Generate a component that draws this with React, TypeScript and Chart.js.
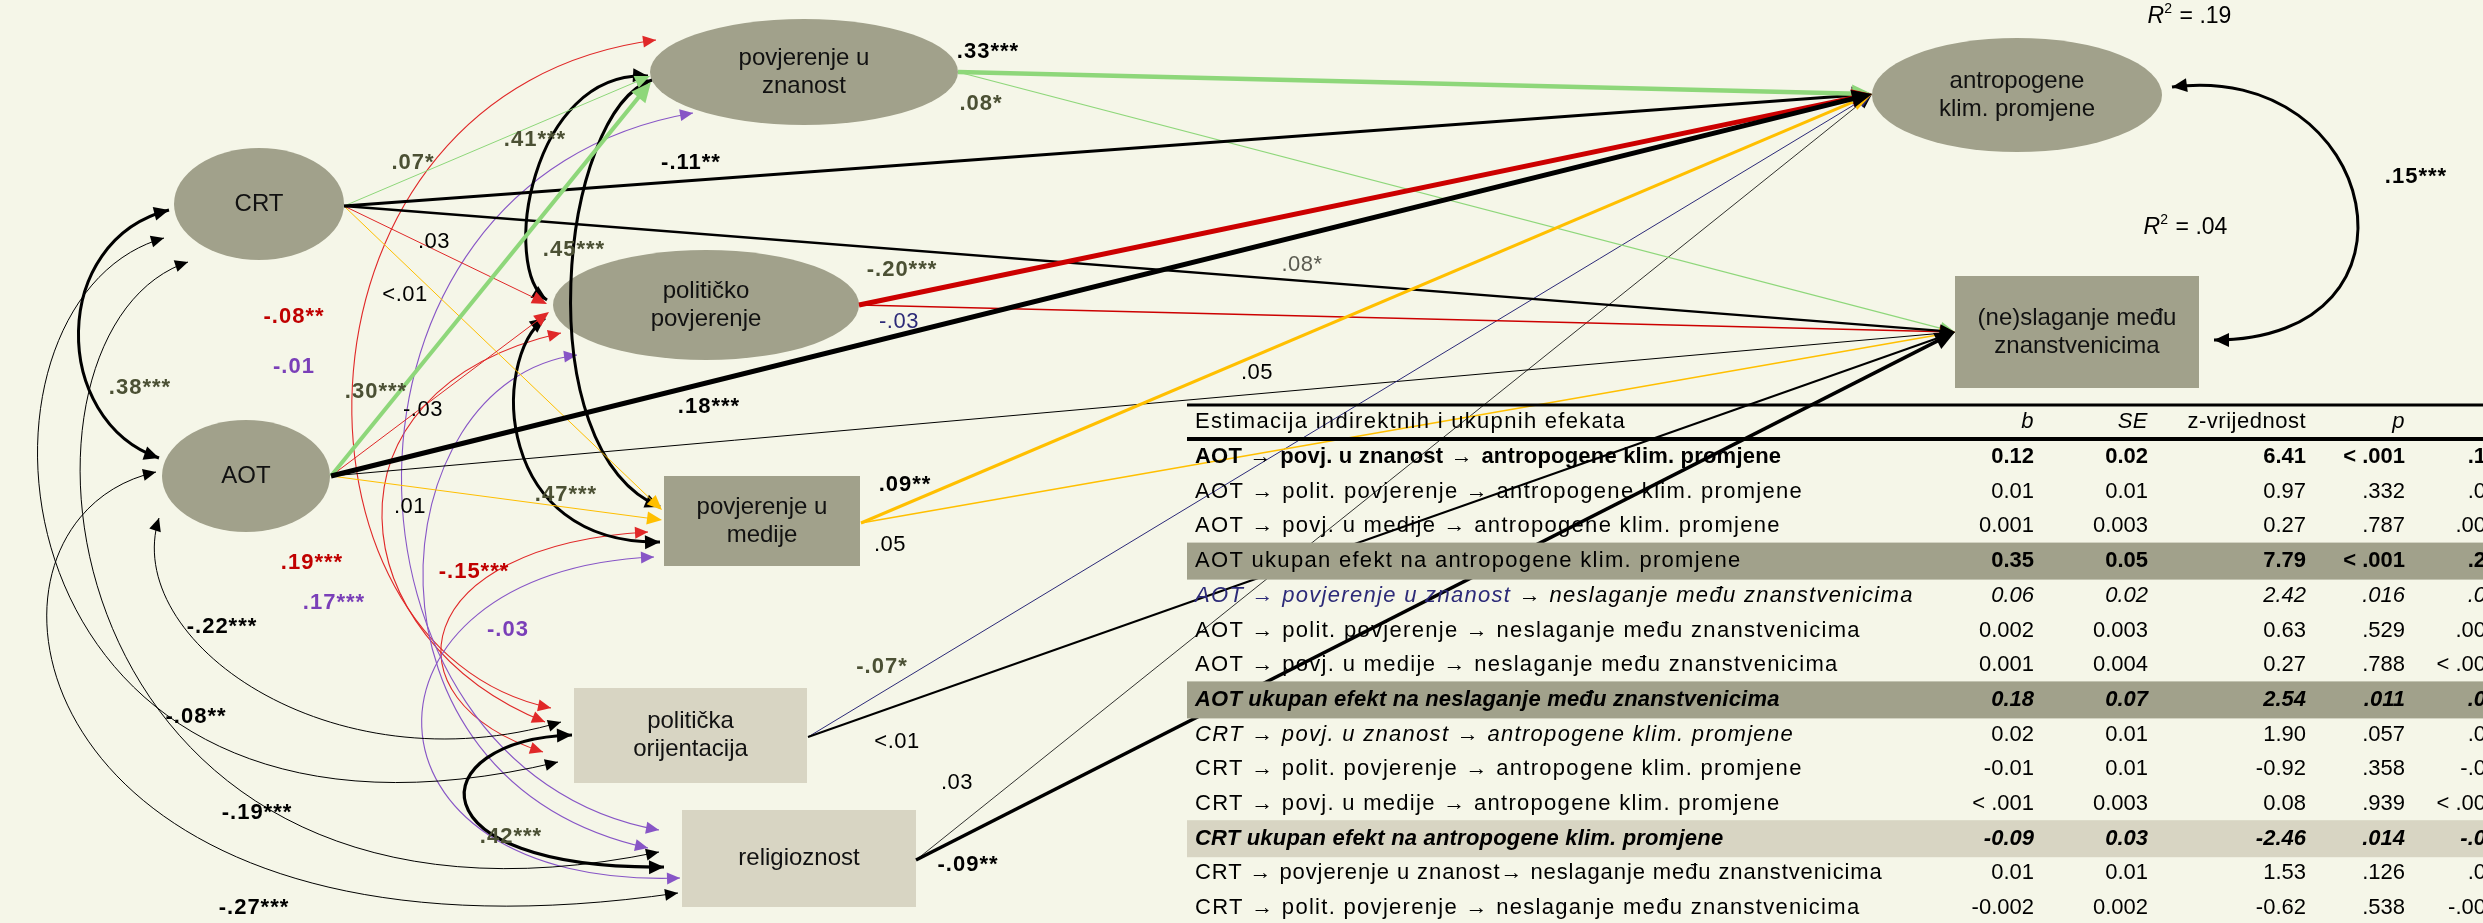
import React, { useEffect, useRef } from "react";
import { Chart, registerables } from "chart.js";

Chart.register(...registerables);

const W = 2483;
const H = 923;
const FONT = '"Liberation Sans", Arial, Helvetica, sans-serif';

// ---------------- data ----------------
const nodeKeys = ["CRT", "AOT", "PZ", "PP", "PM", "PO", "REL", "ANT", "NES"];
const nodeNames = [
  "CRT",
  "AOT",
  "povjerenje u\nznanost",
  "političko\npovjerenje",
  "povjerenje u\nmedije",
  "politička\norijentacija",
  "religioznost",
  "antropogene\nklim. promjene",
  "(ne)slaganje među\nznanstvenicima",
];

const directFrom = ["PZ", "PZ", "CRT", "CRT", "CRT", "CRT", "CRT", "PP", "PP", "AOT", "AOT", "AOT", "AOT", "AOT", "PM", "PM", "PO", "PO", "REL", "REL"];
const directTo = ["ANT", "NES", "ANT", "NES", "PZ", "PP", "PM", "ANT", "NES", "ANT", "NES", "PZ", "PP", "PM", "ANT", "NES", "ANT", "NES", "ANT", "NES"];
const directCoef = [".33***", ".08*", "-.11**", ".08*", ".07*", ".03", "<.01", "-.20***", "-.03", ".18***", ".05", ".30***", "-.03", ".01", ".09**", ".05", "-.07*", "<.01", ".03", "-.09**"];

const corrA = ["CRT", "PZ", "PZ", "PP", "PO", "ANT", "AOT", "CRT", "CRT", "AOT"];
const corrB = ["AOT", "PP", "PM", "PM", "REL", "NES", "PO", "PO", "REL", "REL"];
const corrCoef = [".38***", ".41***", ".45***", ".47***", ".42***", ".15***", "-.22***", "-.08**", "-.19***", "-.27***"];

const controlFrom = ["PO", "PO", "PO", "REL", "REL", "REL"];
const controlTo = ["PZ", "PP", "PM", "PZ", "PP", "PM"];
const controlCoef = ["-.08**", ".19***", "-.15***", "-.01", ".17***", "-.03"];

const r2Nodes = ["ANT", "NES"];
const r2Values = [".19", ".04"];

const tableTitle = "Estimacija indirektnih i ukupnih efekata";
const tableHeads = ["b", "SE", "z-vrijednost", "p"];
const effectRows = [
  "AOT → povj. u znanost → antropogene klim. promjene",
  "AOT → polit. povjerenje → antropogene klim. promjene",
  "AOT → povj. u medije → antropogene klim. promjene",
  "AOT ukupan efekt na antropogene klim. promjene",
  "AOT → povjerenje u znanost → neslaganje među znanstvenicima",
  "AOT → polit. povjerenje → neslaganje među znanstvenicima",
  "AOT → povj. u medije → neslaganje među znanstvenicima",
  "AOT ukupan efekt na neslaganje među znanstvenicima",
  "CRT → povj. u znanost → antropogene klim. promjene",
  "CRT → polit. povjerenje → antropogene klim. promjene",
  "CRT → povj. u medije → antropogene klim. promjene",
  "CRT ukupan efekt na antropogene klim. promjene",
  "CRT → povjerenje u znanost→ neslaganje među znanstvenicima",
  "CRT → polit. povjerenje → neslaganje među znanstvenicima",
];
const effectB = ["0.12", "0.01", "0.001", "0.35", "0.06", "0.002", "0.001", "0.18", "0.02", "-0.01", "< .001", "-0.09", "0.01", "-0.002"];
const effectSE = ["0.02", "0.01", "0.003", "0.05", "0.02", "0.003", "0.004", "0.07", "0.01", "0.01", "0.003", "0.03", "0.01", "0.002"];
const effectZ = ["6.41", "0.97", "0.27", "7.79", "2.42", "0.63", "0.27", "2.54", "1.90", "-0.92", "0.08", "-2.46", "1.53", "-0.62"];
const effectP = ["< .001", ".332", ".787", "< .001", ".016", ".529", ".788", ".011", ".057", ".358", ".939", ".014", ".126", ".538"];
// standardized column, cut off at the right border of the picture (visible part only)
const effectBeta = [".1", ".0", ".00", ".2", ".0", ".00", "< .00", ".0", ".0", "-.0", "< .00", "-.0", ".0", "-.00"];

// ---------------- layout / styles ----------------
const BG = "#f5f6e8";
const GRAY = "#a1a18b";
const LIGHT = "#d8d5c3";
const OLIVE = "#4b5034";
const RED = "#cc0000";
const RED_T = "#e02828";
const ORANGE = "#ffbf00";
const GREEN = "#8ed77a";
const PURPLE = "#8755c6";
const PURPLE_T = "#7a3fb8";
const NAVY = "#2c2a78";

type NodeL = { shape: "e" | "r"; x: number; y: number; a: number; b: number; fill: string };
const NODE_LAYOUT: Record<string, NodeL> = {
  CRT: { shape: "e", x: 259, y: 204, a: 85, b: 56, fill: GRAY },
  AOT: { shape: "e", x: 246, y: 476, a: 84, b: 56, fill: GRAY },
  PZ: { shape: "e", x: 804, y: 72, a: 154, b: 53, fill: GRAY },
  PP: { shape: "e", x: 706, y: 305, a: 153, b: 55, fill: GRAY },
  PM: { shape: "r", x: 664, y: 476, a: 196, b: 90, fill: GRAY },
  PO: { shape: "r", x: 574, y: 688, a: 233, b: 95, fill: LIGHT },
  REL: { shape: "r", x: 682, y: 810, a: 234, b: 97, fill: LIGHT },
  ANT: { shape: "e", x: 2017, y: 95, a: 145, b: 57, fill: GRAY },
  NES: { shape: "r", x: 1955, y: 276, a: 244, b: 112, fill: GRAY },
};

const OUT: Record<string, [number, number]> = {
  CRT: [344, 206], AOT: [331, 476], PZ: [958, 72], PP: [859, 305], PM: [861, 523], PO: [808, 737], REL: [916, 860],
};
const IN_AT: Record<string, [number, number]> = {
  ANT: [1872, 94], NES: [1955, 332],
};
const IN_SPECIAL: Record<string, [number, number]> = {
  "CRT-PZ": [650, 76], "AOT-PZ": [651, 82], "CRT-PP": [547, 304], "AOT-PP": [549, 312], "CRT-PM": [662, 510], "AOT-PM": [662, 520],
};
// [color, width, labelX, labelY, labelStyle]
const DIRECT_STYLE: [string, number, number, number, string][] = [
  [GREEN, 4.5, 988, 52, "bk"],
  [GREEN, 1.2, 981, 104, "ol"],
  ["#000", 3, 691, 163, "bk"],
  ["#000", 2.3, 1302, 265, "g"],
  [GREEN, 1, 413, 163, "ol"],
  [RED_T, 1, 434, 242, "n"],
  [ORANGE, 1, 405, 295, "n"],
  [RED, 5, 902, 270, "ol"],
  [RED, 1.3, 899, 322, "nv"],
  ["#000", 5, 709, 407, "bk"],
  ["#000", 1, 1257, 373, "n"],
  [GREEN, 4, 376, 392, "ol"],
  [RED_T, 1, 423, 410, "n"],
  [ORANGE, 1, 410, 507, "n"],
  [ORANGE, 3, 905, 485, "bk"],
  [ORANGE, 1.6, 890, 545, "n"],
  [NAVY, 1, 882, 667, "ol"],
  ["#000", 2, 897, 742, "n"],
  ["#000", 0.8, 957, 783, "n"],
  ["#000", 3.5, 968, 865, "bk"],
];

type Pt = [number, number];
const CORR_STYLE: [Pt, Pt, Pt, Pt, number, number, number, string][] = [
  [[169, 210], [50, 240], [50, 420], [159, 458], 3, 140, 388, "ol"],
  [[648, 76], [530, 70], [500, 270], [547, 300], 3, 535, 140, "ol"],
  [[652, 80], [560, 110], [525, 450], [660, 507], 3, 574, 250, "ol"],
  [[545, 318], [490, 360], [495, 545], [660, 542], 3, 566, 495, "ol"],
  [[572, 735], [420, 740], [410, 870], [664, 867], 3.2, 511, 837, "ol"],
  [[2172, 87], [2380, 60], [2440, 340], [2214, 340], 3, 2416, 177, "bk"],
  [[159, 518], [120, 640], [330, 790], [561, 722], 1, 222, 627, "bk"],
  [[164, 238], [-60, 300], [-20, 900], [558, 762], 1, 196, 717, "bk"],
  [[188, 262], [-20, 330], [40, 980], [659, 852], 1, 257, 813, "bk"],
  [[156, 472], [-60, 520], [10, 990], [678, 893], 1, 254, 908, "bk"],
];
const CONTROL_STYLE: [Pt, Pt, Pt, Pt, string, number, number, string][] = [
  [[551, 708], [270, 650], [270, 90], [656, 40], RED_T, 294, 317, "rd"],
  [[545, 722], [340, 640], [310, 390], [561, 333], RED_T, 312, 563, "rd"],
  [[543, 752], [380, 700], [410, 545], [648, 532], RED_T, 474, 572, "rd"],
  [[659, 830], [320, 770], [300, 180], [693, 113], PURPLE, 294, 367, "pu"],
  [[648, 848], [340, 780], [380, 380], [577, 355], PURPLE, 334, 603, "pu"],
  [[680, 878], [340, 890], [340, 570], [654, 557], PURPLE, 508, 630, "pu"],
];
const R2_POS: Pt[] = [[2190, 17], [2186, 228]];

const TABLE = {
  x0: 1187, x1: 2483, top: 405, headY: 422, headLine: 439, row0: 457, dy: 34.7,
  textX: 1195, cols: [2034, 2148, 2306, 2405], betaRight: 2486,
};
const ROW_BAND: (string | null)[] = [null, null, null, GRAY, null, null, null, GRAY, null, null, null, LIGHT, null, null];
const ROW_VAL_FONT = ["b", "n", "n", "b", "i", "n", "n", "bi", "n", "n", "n", "bi", "n", "n"];

const LABEL_STYLE: Record<string, [string, string]> = {
  bk: ["bold 22px " + FONT, "#000"],
  ol: ["bold 22px " + FONT, OLIVE],
  n: ["22px " + FONT, "#000"],
  g: ["22px " + FONT, "#5a5a50"],
  nv: ["22px " + FONT, NAVY],
  rd: ["bold 22px " + FONT, "#c00000"],
  pu: ["bold 22px " + FONT, PURPLE_T],
};

function fontFor(k: string, size = 22) {
  if (k === "b") return `bold ${size}px ${FONT}`;
  if (k === "i") return `italic ${size}px ${FONT}`;
  if (k === "bi") return `italic bold ${size}px ${FONT}`;
  return `${size}px ${FONT}`;
}
function spacingFor(k: string) {
  return k === "b" || k === "bi" ? "0.2px" : "1.3px";
}

function rowSegments(i: number): [string, string, string][] {
  const t = effectRows[i];
  if (i === 0) {
    return [["AOT", "b", "#000"], [" → ", "n", "#000"], ["povj. u znanost", "b", "#000"], [" → ", "n", "#000"], ["antropogene klim. promjene", "b", "#000"]];
  }
  if (i === 4) {
    const k = t.indexOf(" → neslaganje");
    return [[t.slice(0, k), "i", NAVY], [t.slice(k), "i", "#000"]];
  }
  if (i === 7 || i === 11) return [[t, "bi", "#000"]];
  if (i === 8) return [[t, "i", "#000"]];
  return [[t, "n", "#000"]];
}

function arrowHead(ctx: CanvasRenderingContext2D, x: number, y: number, ang: number, len: number, hw: number, color: string) {
  ctx.save();
  ctx.translate(x, y);
  ctx.rotate(ang);
  ctx.beginPath();
  ctx.moveTo(0, 0);
  ctx.lineTo(-len, -hw);
  ctx.lineTo(-len, hw);
  ctx.closePath();
  ctx.fillStyle = color;
  ctx.fill();
  ctx.restore();
}

function setSpacing(ctx: CanvasRenderingContext2D, v: string) {
  (ctx as any).letterSpacing = v;
}

const diagramPlugin = {
  id: "semDiagram",
  beforeDraw(chart: any) {
    const ctx: CanvasRenderingContext2D = chart.ctx;
    ctx.save();
    ctx.fillStyle = BG;
    ctx.fillRect(0, 0, chart.width, chart.height);
    ctx.restore();
  },
  afterDatasetsDraw(chart: any) {
    const ctx: CanvasRenderingContext2D = chart.ctx;
    const xs = chart.scales.x;
    const ys = chart.scales.y;
    const X = (v: number) => xs.getPixelForValue(v);
    const Y = (v: number) => ys.getPixelForValue(v);
    ctx.save();

    // nodes
    nodeKeys.forEach((k) => {
      const n = NODE_LAYOUT[k];
      ctx.fillStyle = n.fill;
      ctx.beginPath();
      if (n.shape === "e") {
        ctx.ellipse(X(n.x), Y(n.y), X(n.x + n.a) - X(n.x), Y(n.y + n.b) - Y(n.y), 0, 0, Math.PI * 2);
      } else {
        ctx.rect(X(n.x), Y(n.y), X(n.x + n.a) - X(n.x), Y(n.y + n.b) - Y(n.y));
      }
      ctx.fill();
    });

    const cubic = (p: Pt[], color: string, w: number, heads: boolean, hl: number, hw: number) => {
      const [p0, c1, c2, p3] = p;
      ctx.strokeStyle = color;
      ctx.lineWidth = w;
      ctx.beginPath();
      ctx.moveTo(X(p0[0]), Y(p0[1]));
      ctx.bezierCurveTo(X(c1[0]), Y(c1[1]), X(c2[0]), Y(c2[1]), X(p3[0]), Y(p3[1]));
      ctx.stroke();
      if (heads) {
        const a1 = Math.atan2(Y(p3[1]) - Y(c2[1]), X(p3[0]) - X(c2[0]));
        arrowHead(ctx, X(p3[0]), Y(p3[1]), a1, hl, hw, color);
        const a0 = Math.atan2(Y(p0[1]) - Y(c1[1]), X(p0[0]) - X(c1[0]));
        arrowHead(ctx, X(p0[0]), Y(p0[1]), a0, hl, hw, color);
      }
    };

    CONTROL_STYLE.forEach((s) => cubic([s[0], s[1], s[2], s[3]], s[4], 1.1, true, 13, 6));
    CORR_STYLE.forEach((s) => cubic([s[0], s[1], s[2], s[3]], "#000", s[4], true, s[4] > 2 ? 15 : 13, s[4] > 2 ? 7 : 6));

    const order = directFrom.map((_, i) => i).sort((a, b) => DIRECT_STYLE[a][1] - DIRECT_STYLE[b][1]);
    order.forEach((i) => {
      const [color, w] = DIRECT_STYLE[i];
      const s = OUT[directFrom[i]];
      const e = IN_SPECIAL[directFrom[i] + "-" + directTo[i]] || IN_AT[directTo[i]];
      const x0 = X(s[0]), y0 = Y(s[1]), x1 = X(e[0]), y1 = Y(e[1]);
      const ang = Math.atan2(y1 - y0, x1 - x0);
      const hl = w >= 3 ? 20 : 15;
      const hw = w >= 3 ? 9 : 6.5;
      ctx.strokeStyle = color;
      ctx.lineWidth = w;
      ctx.beginPath();
      ctx.moveTo(x0, y0);
      ctx.lineTo(x1 - Math.cos(ang) * hl * 0.7, y1 - Math.sin(ang) * hl * 0.7);
      ctx.stroke();
      arrowHead(ctx, x1, y1, ang, hl, hw, color);
    });

    // coefficient labels
    ctx.textAlign = "center";
    ctx.textBaseline = "middle";
    const label = (t: string, x: number, y: number, st: string) => {
      const [f, c] = LABEL_STYLE[st];
      ctx.font = f;
      ctx.fillStyle = c;
      setSpacing(ctx, f.startsWith("bold") ? "1px" : "0.5px");
      ctx.fillText(t, X(x), Y(y));
    };
    directCoef.forEach((t, i) => label(t, DIRECT_STYLE[i][2], DIRECT_STYLE[i][3], DIRECT_STYLE[i][4]));
    corrCoef.forEach((t, i) => label(t, CORR_STYLE[i][5], CORR_STYLE[i][6], CORR_STYLE[i][7]));
    controlCoef.forEach((t, i) => label(t, CONTROL_STYLE[i][5], CONTROL_STYLE[i][6], CONTROL_STYLE[i][7]));
    setSpacing(ctx, "0px");

    // R2 labels
    r2Values.forEach((v, i) => {
      const [x, y] = R2_POS[i];
      ctx.textAlign = "left";
      ctx.fillStyle = "#000";
      ctx.font = `italic 23px ${FONT}`;
      const rw = ctx.measureText("R").width;
      ctx.font = `23px ${FONT}`;
      const rest = ctx.measureText(" = " + v).width;
      let cx = X(x) - (rw + 10 + rest) / 2;
      ctx.font = `italic 23px ${FONT}`;
      ctx.fillText("R", cx, Y(y));
      cx += rw;
      ctx.font = `14px ${FONT}`;
      ctx.fillText("2", cx, Y(y) - 8);
      cx += 9;
      ctx.font = `23px ${FONT}`;
      ctx.fillText(" = " + v, cx, Y(y));
    });

    // node labels
    ctx.textAlign = "center";
    ctx.fillStyle = "#111";
    ctx.font = `24px ${FONT}`;
    nodeKeys.forEach((k, i) => {
      const n = NODE_LAYOUT[k];
      const cx = n.shape === "e" ? n.x : n.x + n.a / 2;
      const cy = n.shape === "e" ? n.y : n.y + n.b / 2;
      const lines = nodeNames[i].split("\n");
      lines.forEach((ln, j) => {
        ctx.fillText(ln, X(cx), Y(cy + (j - (lines.length - 1) / 2) * 28));
      });
    });

    // ---------- table ----------
    const T = TABLE;
    ROW_BAND.forEach((c, i) => {
      if (!c) return;
      const yc = T.row0 + i * T.dy;
      ctx.fillStyle = c;
      ctx.fillRect(X(T.x0), Y(yc - 18.5), X(T.x1) - X(T.x0), Y(yc + 18.5) - Y(yc - 18.5));
    });
    ctx.fillStyle = "#000";
    ctx.fillRect(X(T.x0), Y(T.top) - 1.5, X(T.x1) - X(T.x0), 3);
    ctx.fillRect(X(T.x0), Y(T.headLine) - 2, X(T.x1) - X(T.x0), 4);

    ctx.textBaseline = "middle";
    ctx.textAlign = "left";
    ctx.font = fontFor("n");
    setSpacing(ctx, spacingFor("n"));
    ctx.fillText(tableTitle, X(T.textX), Y(T.headY));
    setSpacing(ctx, "0.5px");
    ctx.textAlign = "right";
    tableHeads.forEach((h, j) => {
      ctx.font = fontFor(h === "z-vrijednost" ? "n" : "i");
      ctx.fillText(h, X(T.cols[j]), Y(T.headY));
    });

    effectRows.forEach((_, i) => {
      const yc = Y(T.row0 + i * T.dy);
      let cx = X(T.textX);
      ctx.textAlign = "left";
      rowSegments(i).forEach(([t, f, c]) => {
        ctx.font = fontFor(f);
        setSpacing(ctx, i === 12 ? "0.9px" : spacingFor(f));
        ctx.fillStyle = c;
        ctx.fillText(t, cx, yc);
        cx += ctx.measureText(t).width;
      });
      ctx.textAlign = "right";
      ctx.fillStyle = "#000";
      ctx.font = fontFor(ROW_VAL_FONT[i]);
      setSpacing(ctx, "0px");
      const vals = [effectB[i], effectSE[i], effectZ[i], effectP[i]];
      vals.forEach((v, j) => ctx.fillText(v, X(T.cols[j]), yc));
      ctx.fillText(effectBeta[i], X(T.betaRight), yc);
    });
    setSpacing(ctx, "0px");

    ctx.restore();
  },
};

export default function App() {
  const ref = useRef<HTMLCanvasElement>(null);
  useEffect(() => {
    document.body.style.margin = "0";
    document.body.style.background = BG;
    const canvas = ref.current;
    if (!canvas) return;
    const points = nodeKeys.map((k) => {
      const n = NODE_LAYOUT[k];
      return n.shape === "e" ? { x: n.x, y: n.y } : { x: n.x + n.a / 2, y: n.y + n.b / 2 };
    });
    const chart = new Chart(canvas, {
      type: "scatter",
      data: {
        datasets: [{ label: "nodes", data: points, pointRadius: 0, pointHoverRadius: 0 }],
      },
      options: {
        responsive: false,
        animation: false,
        devicePixelRatio: 1,
        events: [],
        layout: { padding: 0 },
        plugins: { legend: { display: false }, tooltip: { enabled: false }, title: { display: false } },
        scales: {
          x: { type: "linear", min: 0, max: W, display: false },
          y: { type: "linear", min: 0, max: H, reverse: true, display: false },
        },
      },
      plugins: [diagramPlugin],
    } as any);
    return () => chart.destroy();
  }, []);
  return (
    <canvas
      ref={ref}
      width={W}
      height={H}
      style={{ display: "block", position: "fixed", left: 0, top: 0, width: W, height: H }}
    />
  );
}
